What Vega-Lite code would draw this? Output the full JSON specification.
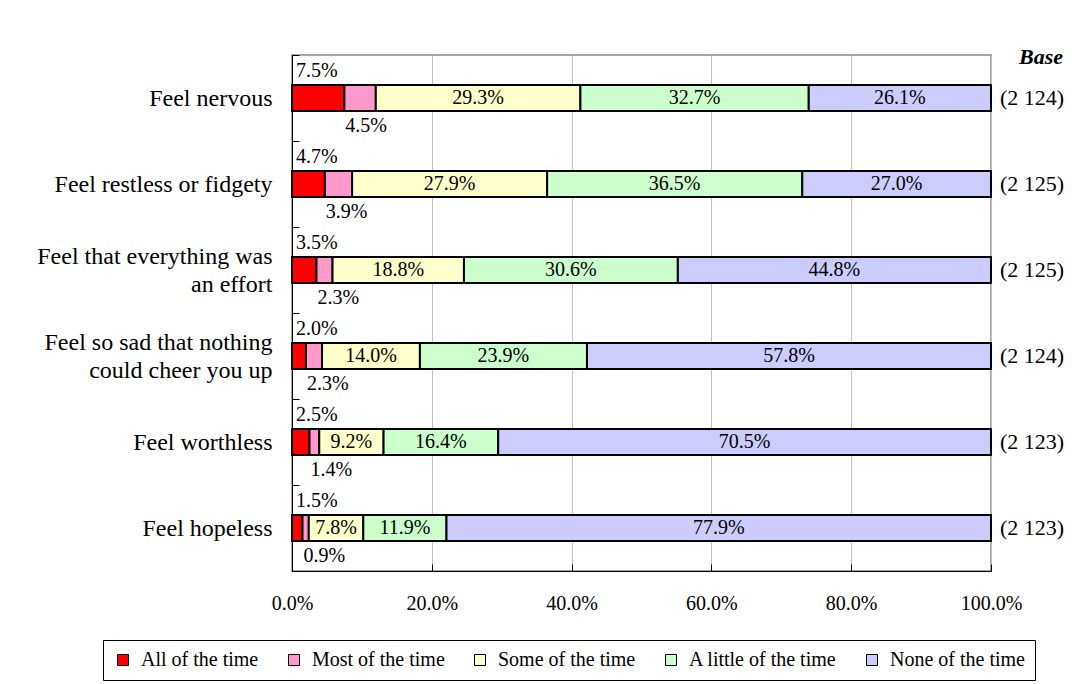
{
  "$schema": "https://vega.github.io/schema/vega-lite/v6.json",
  "width": 699,
  "height": 516,
  "autosize": {"type": "none"},
  "padding": {"left": 292, "top": 55, "right": 94, "bottom": 113},
  "background": "white",
  "title": {"text": "Base", "anchor": "end", "frame": "group", "font": "Liberation Serif", "fontSize": 22, "fontStyle": "italic", "fontWeight": "bold", "color": "black", "dx": 72, "offset": -26},
  "data": {"values": [
    {"item": "Feel nervous", "cat": "All of the time", "order": 1, "value": 7.5, "base": "(2 124)"},
    {"item": "Feel nervous", "cat": "Most of the time", "order": 2, "value": 4.5, "base": "(2 124)"},
    {"item": "Feel nervous", "cat": "Some of the time", "order": 3, "value": 29.3, "base": "(2 124)"},
    {"item": "Feel nervous", "cat": "A little of the time", "order": 4, "value": 32.7, "base": "(2 124)"},
    {"item": "Feel nervous", "cat": "None of the time", "order": 5, "value": 26.1, "base": "(2 124)"},
    {"item": "Feel restless or fidgety", "cat": "All of the time", "order": 1, "value": 4.7, "base": "(2 125)"},
    {"item": "Feel restless or fidgety", "cat": "Most of the time", "order": 2, "value": 3.9, "base": "(2 125)"},
    {"item": "Feel restless or fidgety", "cat": "Some of the time", "order": 3, "value": 27.9, "base": "(2 125)"},
    {"item": "Feel restless or fidgety", "cat": "A little of the time", "order": 4, "value": 36.5, "base": "(2 125)"},
    {"item": "Feel restless or fidgety", "cat": "None of the time", "order": 5, "value": 27.0, "base": "(2 125)"},
    {"item": "Feel that everything was|an effort", "cat": "All of the time", "order": 1, "value": 3.5, "base": "(2 125)"},
    {"item": "Feel that everything was|an effort", "cat": "Most of the time", "order": 2, "value": 2.3, "base": "(2 125)"},
    {"item": "Feel that everything was|an effort", "cat": "Some of the time", "order": 3, "value": 18.8, "base": "(2 125)"},
    {"item": "Feel that everything was|an effort", "cat": "A little of the time", "order": 4, "value": 30.6, "base": "(2 125)"},
    {"item": "Feel that everything was|an effort", "cat": "None of the time", "order": 5, "value": 44.8, "base": "(2 125)"},
    {"item": "Feel so sad that nothing|could cheer you up", "cat": "All of the time", "order": 1, "value": 2.0, "base": "(2 124)"},
    {"item": "Feel so sad that nothing|could cheer you up", "cat": "Most of the time", "order": 2, "value": 2.3, "base": "(2 124)"},
    {"item": "Feel so sad that nothing|could cheer you up", "cat": "Some of the time", "order": 3, "value": 14.0, "base": "(2 124)"},
    {"item": "Feel so sad that nothing|could cheer you up", "cat": "A little of the time", "order": 4, "value": 23.9, "base": "(2 124)"},
    {"item": "Feel so sad that nothing|could cheer you up", "cat": "None of the time", "order": 5, "value": 57.8, "base": "(2 124)"},
    {"item": "Feel worthless", "cat": "All of the time", "order": 1, "value": 2.5, "base": "(2 123)"},
    {"item": "Feel worthless", "cat": "Most of the time", "order": 2, "value": 1.4, "base": "(2 123)"},
    {"item": "Feel worthless", "cat": "Some of the time", "order": 3, "value": 9.2, "base": "(2 123)"},
    {"item": "Feel worthless", "cat": "A little of the time", "order": 4, "value": 16.4, "base": "(2 123)"},
    {"item": "Feel worthless", "cat": "None of the time", "order": 5, "value": 70.5, "base": "(2 123)"},
    {"item": "Feel hopeless", "cat": "All of the time", "order": 1, "value": 1.5, "base": "(2 123)"},
    {"item": "Feel hopeless", "cat": "Most of the time", "order": 2, "value": 0.9, "base": "(2 123)"},
    {"item": "Feel hopeless", "cat": "Some of the time", "order": 3, "value": 7.8, "base": "(2 123)"},
    {"item": "Feel hopeless", "cat": "A little of the time", "order": 4, "value": 11.9, "base": "(2 123)"},
    {"item": "Feel hopeless", "cat": "None of the time", "order": 5, "value": 77.9, "base": "(2 123)"}
  ]},
  "transform": [
    {"stack": "value", "groupby": ["item"], "sort": [{"field": "order", "order": "ascending"}], "offset": "normalize", "as": ["x0", "x1"]},
    {"calculate": "(datum.x0 + datum.x1) / 2", "as": "xmid"},
    {"calculate": "format(datum.value, '.1f') + '%'", "as": "label"}
  ],
  "encoding": {
    "y": {
      "field": "item", "type": "nominal",
      "sort": ["Feel nervous", "Feel restless or fidgety", "Feel that everything was|an effort", "Feel so sad that nothing|could cheer you up", "Feel worthless", "Feel hopeless"],
      "scale": {"paddingInner": 0, "paddingOuter": 0},
      "axis": {
        "title": null, "domainColor": "black", "domainWidth": 1, "tickBand": "extent", "tickSize": -7, "tickColor": "black",
        "labelFont": "Liberation Serif", "labelFontSize": 24, "labelColor": "black", "labelPadding": 27,
        "labelExpr": "isValid(datum.value) ? split(datum.value, '|') : ''", "labelLineHeight": 28, "labelLimit": 300, "grid": false,
        "labelOffset": {"condition": {"test": "isValid(datum.value) && indexof(datum.value, '|') >= 0", "value": -14}, "value": 0}
      }
    }
  },
  "layer": [
    {
      "mark": {"type": "bar", "size": 26, "stroke": "black", "strokeWidth": 2},
      "encoding": {
        "x": {"field": "x0", "type": "quantitative", "scale": {"domain": [0, 1], "nice": false},
          "axis": {"title": null, "format": ".1%", "values": [0, 0.2, 0.4, 0.6, 0.8, 1], "grid": true, "gridColor": "#c0c0c0", "gridWidth": 1,
            "domainColor": "black", "tickSize": -7, "tickColor": "black", "labelPadding": 29, "labelFont": "Liberation Serif", "labelFontSize": 20, "labelColor": "black", "labelFlush": false}},
        "x2": {"field": "x1"},
        "color": {
          "field": "cat", "type": "nominal",
          "scale": {"domain": ["All of the time", "Most of the time", "Some of the time", "A little of the time", "None of the time"],
                    "range": ["#FF0000", "#FF99CC", "#FFFFCC", "#CCFFCC", "#CCCCFF"]},
          "legend": {
            "title": null, "orient": "none", "legendX": -189, "legendY": 585, "direction": "horizontal",
            "symbolType": "square", "symbolSize": 121, "symbolStrokeColor": "black", "symbolStrokeWidth": 1, "symbolOpacity": 1,
            "labelFont": "Liberation Serif", "labelFontSize": 20, "labelColor": "black", "labelOffset": 8,
            "columnPadding": 25, "strokeColor": "black", "padding": 10, "fillColor": "white", "labelLimit": 300
          }
        }
      }
    },
    {
      "transform": [{"filter": "datum.order == 1"}],
      "mark": {"type": "text", "align": "left", "baseline": "middle", "dx": 4, "dy": -27, "font": "Liberation Serif", "fontSize": 20, "color": "black"},
      "encoding": {"x": {"field": "x0", "type": "quantitative"}, "text": {"field": "label"}}
    },
    {
      "transform": [{"filter": "datum.order == 2"}],
      "mark": {"type": "text", "align": "left", "baseline": "middle", "dx": 1, "dy": 28, "font": "Liberation Serif", "fontSize": 20, "color": "black"},
      "encoding": {"x": {"field": "x0", "type": "quantitative"}, "text": {"field": "label"}}
    },
    {
      "transform": [{"filter": "datum.order >= 3"}],
      "mark": {"type": "text", "align": "center", "baseline": "middle", "font": "Liberation Serif", "fontSize": 20, "color": "black"},
      "encoding": {"x": {"field": "xmid", "type": "quantitative"}, "text": {"field": "label"}}
    },
    {
      "transform": [{"filter": "datum.order == 5"}],
      "mark": {"type": "text", "align": "left", "baseline": "middle", "dx": 9, "font": "Liberation Serif", "fontSize": 22, "color": "black"},
      "encoding": {"x": {"datum": 1, "type": "quantitative"}, "text": {"field": "base"}}
    }
  ],
  "config": {
    "view": {"stroke": "#888888", "strokeWidth": 1.5},
    "font": "Liberation Serif"
  }
}
